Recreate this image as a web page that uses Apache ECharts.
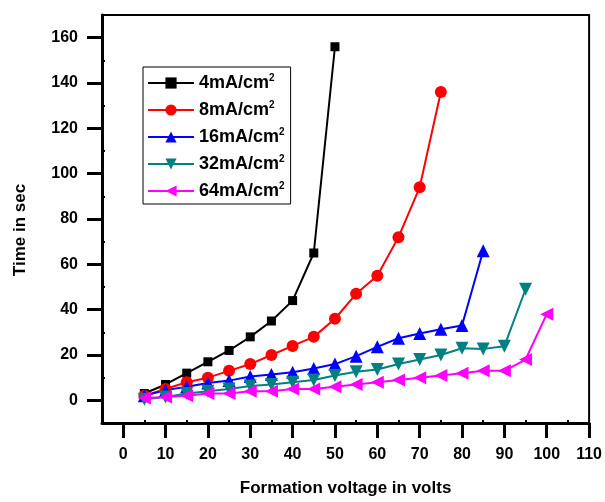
<!DOCTYPE html>
<html style="height: 100%">

<head>
    <meta charset="UTF-8" />
    <title>Formation time</title>
    <script src="https://cdn.jsdelivr.net/npm/echarts@6/dist/echarts.min.js"></script>
</head>

<body style="height: 100%; margin: 0">
    <div id="main" style="width: 605px; height: 502px; margin: 0"></div>
    <script type="text/javascript">

        // formation voltage (V)
        var volts = [5, 10, 15, 20, 25, 30, 35, 40, 45, 50, 55, 60, 65, 70, 75, 80, 85, 90, 95, 100];
        var names = ['4mA/cm2', '8mA/cm2', '16mA/cm2', '32mA/cm2', '64mA/cm2'];

        // time in sec
        var t4 = [3, 7, 12, 17, 22, 28, 35, 44, 65, 156];
        var t8 = [2, 5, 8, 10, 13, 16, 20, 24, 28, 36, 47, 55, 72, 94, 136];
        var t16 = [2, 4.5, 6, 7.6, 8.7, 10.5, 11.4, 12.4, 14, 16, 19.5, 23.6, 27.4, 29.5, 31.4, 33, 66];
        var t32 = [0.5, 1.5, 3, 4, 5, 6.3, 7, 8, 9, 11, 12.6, 13.6, 16, 18, 20, 23, 22.7, 23.9, 49];
        var t64 = [1, 1.5, 2, 3, 3, 4, 4, 5, 5, 6, 7, 8, 9, 10, 11, 12, 13, 13, 18, 38];

        var xLabels = [0, 10, 20, 30, 40, 50, 60, 70, 80, 90, 100, 110];
        var xMinor = [5, 15, 25, 35, 45, 55, 65, 75, 85, 95, 105];
        var yLabels = [0, 20, 40, 60, 80, 100, 120, 140, 160];
        var yMinor = [10, 30, 50, 70, 90, 110, 130, 150];

        var colors = ['#000000', '#ff0000', '#0000ff', '#008080', '#ff00ff'];
        var symbols = ['rect', 'circle', 'triangle', 'triangle', 'triangle'];
        var symbolSizes = [9, 12, 13, 13, 13];
        var rotations = [0, 0, 0, 180, 90];

        function pairs(ys)
        {
            return ys.map(function (y, i) { return [volts[i], y]; });
        }

        var allData = [t4, t8, t16, t32, t64];

        var chartDom = document.getElementById('main');
        var myChart = echarts.init(chartDom);
        var font = '"Liberation Sans", Arial, sans-serif';

        var series = names.map(function (n, i)
        {
            return {
                name: n,
                type: 'line',
                xAxisIndex: 0,
                yAxisIndex: 0,
                data: pairs(allData[i]),
                symbol: symbols[i],
                symbolSize: symbolSizes[i],
                symbolRotate: rotations[i],
                itemStyle: { color: colors[i] },
                lineStyle: { color: colors[i], width: 2 },
                animation: false
            };
        });

        var option = {
            grid: {
                left: 102, right: 10, top: 15, bottom: 76,
                show: true, borderColor: '#000', borderWidth: 2
            },
            legend: {
                orient: 'vertical',
                left: 143,
                top: 67,
                padding: [6, 6, 3, 4],
                itemWidth: 46,
                itemHeight: 14,
                itemGap: 7,
                borderColor: '#000',
                borderWidth: 1,
                data: names,
                selectedMode: false,
                formatter: function (name)
                {
                    return '{a|' + name.slice(0, -1) + '}{s|2}';
                },
                textStyle: {
                    rich: {
                        a: { fontFamily: font, fontWeight: 'bold', fontSize: 18, lineHeight: 18, color: '#000' },
                        s: { fontFamily: font, fontWeight: 'bold', fontSize: 10, lineHeight: 18, color: '#000', padding: [0, 0, 10, 0] }
                    }
                }
            },
            xAxis: [{
                type: 'value',
                min: -5,
                max: 110,
                name: 'Formation voltage in volts',
                nameLocation: 'middle',
                nameGap: 57,
                nameTextStyle: { fontFamily: font, fontWeight: 'bold', fontSize: 17, color: '#000' },
                axisLine: { onZero: false, lineStyle: { color: '#000', width: 3 } },
                axisTick: { customValues: xLabels, length: 15, lineStyle: { color: '#000', width: 3 } },
                axisLabel: { customValues: xLabels, margin: 24, fontFamily: font, fontWeight: 'bold', fontSize: 16, color: '#000' },
                splitLine: { show: false }
            }, {
                type: 'value',
                min: -5,
                max: 110,
                position: 'bottom',
                axisLine: { show: false, onZero: false },
                axisTick: { customValues: xMinor, inside: true, length: 3, lineStyle: { color: '#000', width: 2 } },
                axisLabel: { show: false },
                splitLine: { show: false }
            }],
            yAxis: [{
                type: 'value',
                min: -10,
                max: 170,
                name: 'Time in sec',
                nameLocation: 'middle',
                nameGap: 73,
                nameTextStyle: { fontFamily: font, fontWeight: 'bold', fontSize: 17, color: '#000', padding: [0, 0, 0, -22] },
                axisLine: { onZero: false, lineStyle: { color: '#000', width: 3 } },
                axisTick: { customValues: yLabels, length: 15, lineStyle: { color: '#000', width: 3 } },
                axisLabel: { customValues: yLabels, margin: 24, fontFamily: font, fontWeight: 'bold', fontSize: 16, color: '#000' },
                splitLine: { show: false }
            }, {
                type: 'value',
                min: -10,
                max: 170,
                position: 'left',
                axisLine: { show: false, onZero: false },
                axisTick: { customValues: yMinor, inside: true, length: 3, lineStyle: { color: '#000', width: 2 } },
                axisLabel: { show: false },
                splitLine: { show: false }
            }],
            series: series
        };

        myChart.setOption(option);

    </script>
</body>

</html>
